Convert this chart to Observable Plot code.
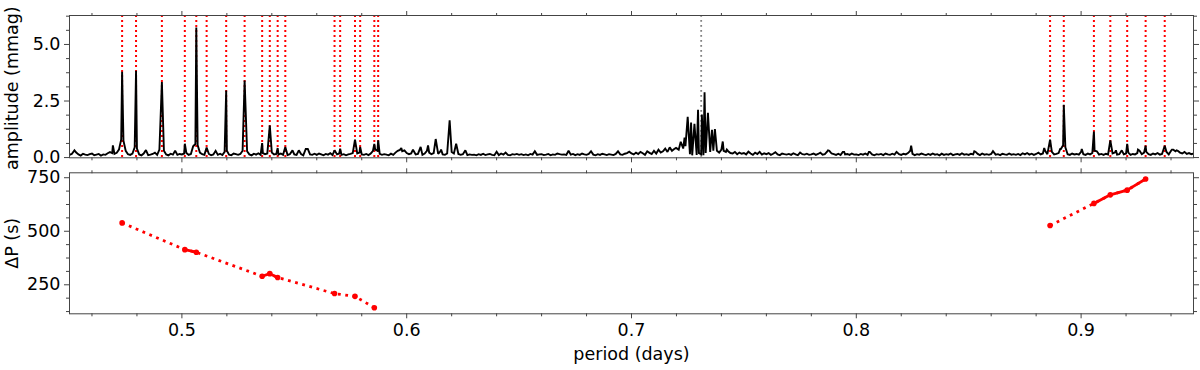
<!DOCTYPE html>
<html><head><meta charset="utf-8">
<script src="https://cdn.jsdelivr.net/npm/d3@7"></script>
<script src="https://cdn.jsdelivr.net/npm/@observablehq/plot@0.6"></script>
<style>
body{margin:0;background:#fff;}
#chart svg{display:block;}
</style>
</head><body><div id="chart"></div>
<script>
// ---------- DATA ----------
// Periodogram noise floor, read every 0.001 d from 0.450 to 0.950 d (amplitude, mmag)
const gridStart = 0.45, gridStep = 0.001;
const noise = [
.12,.16,.10,.22,.14,.09,.17,.13,.11,.15,
.18,.10,.13,.16,.09,.14,.12,.19,.24,.20,
.16,.21,.35,.80,.75,.30,.15,.12,.18,.45,
.40,.14,.10,.18,.33,.11,.13,.16,.22,.12,
.35,.20,.30,.14,.10,.17,.13,.30,.12,.16,
.14,.18,.20,.12,.16,.50,.60,.55,.22,.15,
.12,.18,.16,.10,.14,.30,.12,.17,.11,.25,
.30,.13,.10,.18,.15,.12,.16,.30,.20,.28,
.14,.10,.17,.13,.19,.12,.20,.15,.18,.30,
.22,.14,.16,.13,.18,.12,.16,.11,.15,.20,
.14,.12,.32,.16,.10,.15,.38,.14,.12,.17,
.12,.18,.14,.10,.16,.13,.19,.11,.15,.14,
.18,.12,.15,.10,.14,.16,.20,.25,.18,.22,
.14,.12,.16,.11,.18,.30,.35,.30,.16,.12,
.15,.13,.10,.17,.12,.22,.30,.34,.28,.32,
.20,.15,.18,.30,.14,.16,.20,.12,.18,.30,
.22,.15,.20,.25,.16,.28,.14,.12,.18,.30,
.25,.18,.30,.16,.12,.15,.20,.11,.14,.12,
.13,.10,.15,.12,.17,.11,.14,.16,.12,.10,
.26,.11,.18,.13,.22,.12,.10,.15,.13,.16,
.12,.15,.11,.14,.10,.16,.13,.28,.12,.14,
.15,.11,.13,.16,.10,.14,.12,.18,.15,.13,
.14,.12,.30,.13,.16,.11,.15,.12,.18,.14,
.12,.16,.28,.13,.10,.15,.12,.17,.14,.11,
.15,.13,.11,.16,.28,.14,.12,.17,.20,.26,
.18,.14,.22,.16,.25,.19,.12,.28,.21,.16,
.30,.18,.35,.22,.28,.40,.25,.45,.30,.38,
.30,.35,.40,.40,.50,.60,.15,.10,.60,.12,
.20,.15,.10,.20,.50,.25,.60,.60,.30,.22,
.35,.30,.25,.28,.20,.18,.25,.15,.22,.17,
.20,.14,.26,.18,.12,.22,.16,.25,.13,.19,
.15,.20,.12,.17,.24,.14,.11,.18,.15,.13,
.16,.12,.19,.14,.11,.22,.15,.13,.17,.12,
.14,.18,.12,.16,.22,.13,.15,.26,.30,.18,
.15,.12,.17,.11,.25,.14,.16,.12,.18,.13,
.14,.11,.16,.13,.18,.12,.25,.14,.10,.15,
.13,.16,.11,.18,.14,.12,.17,.13,.24,.15,
.12,.17,.14,.20,.30,.16,.11,.15,.13,.18,
.14,.11,.16,.12,.18,.13,.15,.10,.17,.12,
.15,.13,.18,.11,.14,.16,.12,.19,.13,.15,
.12,.17,.14,.26,.16,.11,.18,.13,.15,.12,
.16,.24,.13,.15,.11,.17,.14,.12,.18,.13,
.15,.12,.16,.11,.19,.14,.20,.13,.17,.12,
.16,.22,.14,.18,.30,.15,.35,.25,.14,.16,
.20,.38,.55,.45,.15,.12,.18,.14,.16,.13,
.25,.15,.12,.18,.14,.20,.30,.28,.13,.16,
.12,.17,.14,.25,.18,.22,.13,.15,.30,.14,
.18,.22,.12,.16,.14,.20,.30,.15,.22,.25,
.15,.12,.18,.14,.20,.13,.16,.22,.25,.14,
.30,.35,.28,.30,.22,.18,.25,.16,.20,.15,
.18
];

// Periodogram peaks [period (d), amplitude (mmag)]
const peaks = [
[0.4522,0.32],[0.4693,0.54],[0.4734,3.79],[0.4796,3.84],[0.4911,3.34],[0.5013,0.61],
[0.5064,5.75],[0.5110,0.44],[0.5197,2.96],[0.5279,3.41],[0.5357,0.64],[0.5391,1.42],
[0.5426,0.42],[0.5460,0.47],[0.5492,0.32],[0.5520,0.32],[0.5551,0.38],[0.5679,0.32],
[0.5704,0.39],[0.5770,0.79],[0.5793,0.47],[0.5856,0.60],[0.5873,0.76],[0.5976,0.42],
[0.6028,0.35],[0.6062,0.47],[0.6095,0.54],[0.6129,0.82],[0.6153,0.35],[0.6191,1.65],
[0.6220,0.61],[0.6261,0.32],
[0.7198,0.43],[0.7219,0.70],[0.7236,0.88],[0.7250,1.80],[0.7265,1.55],[0.7280,1.49],
[0.7296,2.11],[0.7313,1.90],[0.7325,2.89],[0.7340,1.98],[0.7358,1.23],[0.7364,0.30],
[0.7371,1.26],[0.7406,0.71],[0.7424,0.35],
[0.7874,0.32],[0.7946,0.25],[0.8056,0.25],[0.8179,0.25],[0.8244,0.53],[0.8525,0.28],
[0.8608,0.28],[0.8836,0.42],[0.8862,0.79],[0.8907,0.38],[0.8923,2.33],[0.9003,0.38],
[0.9057,1.15],[0.9130,0.76],[0.9155,0.32],[0.9181,0.32],[0.9205,0.61],[0.9253,0.35],
[0.9287,0.52],[0.9372,0.52],[0.9404,0.35],[0.9425,0.32]
];

// Identified mode periods (red) and central period (grey)
const modePeriods = [0.4734,0.4796,0.4911,0.5013,0.5064,0.5110,0.5197,0.5279,0.5357,0.5391,
  0.5426,0.5460,0.5679,0.5704,0.5770,0.5793,0.5856,0.5873,
  0.8862,0.8923,0.9057,0.9130,0.9205,0.9287,0.9372];
const centralPeriod = [0.7310];

// Period spacings
const dpPeriod  = [0.4734,0.5013,0.5064,0.5357,0.5391,0.5426,0.5679,0.5770,0.5856,
                   0.8862,0.9057,0.9130,0.9205,0.9287];
const dpSeconds = [539,414,402,290,302,284,209,196,143, 527,630,670,692,744];
const dpSeries  = ["L","L","L","L","L","L","L","L","L","R","R","R","R","R"];
const dpRun     = ["r1","r2","r2","r3","r3","r3","r4","r5","r6","r7","r8","r8","r8","r8"];

// Ticks
const xMajor = [0.5,0.6,0.7,0.8,0.9];
const xMinor = [0.46,0.48,0.52,0.54,0.56,0.58,0.62,0.64,0.66,0.68,0.72,0.74,0.76,0.78,0.82,0.84,0.86,0.88,0.92,0.94];
const ampMajor = [0,2.5,5];
const ampMinor = [0.625,1.25,1.875,3.125,3.75,4.375,5.625,6.25];
const dpMajor = [250,500,750];
const dpMinor = [125,187.5,312.5,375,437.5,562.5,625,687.5];

// ---------- BUILD ----------
const spectrum = noise
  .map((a, i) => ({period: gridStart + i * gridStep, amp: a}))
  .filter(d => !peaks.some(([p]) => Math.abs(p - d.period) < 0.00025))
  .concat(peaks.map(([p, a]) => ({period: p, amp: a})))
  .sort((a, b) => a.period - b.period);

const dp = dpPeriod.map((p, i) => ({period: p, dP: dpSeconds[i], series: dpSeries[i], run: dpRun[i]}));

const AX = "#444";
const FS = 17.5;
const FONT = {fontFamily: "'DejaVu Sans', sans-serif", fontSize: FS + "px", background: "white", overflow: "visible"};

function frameAxes(xLabels, yMaj, yMin, yFmt) {
  const t = {stroke: AX, strokeWidth: 1, label: null, fontSize: FS, fill: "black"};
  const none = () => "";
  return [
    Plot.axisX({...t, anchor: "bottom", ticks: xMajor, tickSize: 5, tickPadding: 5, tickFormat: xLabels ? (d => d.toFixed(1)) : none}),
    Plot.axisX({...t, anchor: "bottom", ticks: xMinor, tickSize: 3, tickFormat: none}),
    Plot.axisX({...t, anchor: "top", ticks: xMajor, tickSize: 5, tickFormat: none}),
    Plot.axisX({...t, anchor: "top", ticks: xMinor, tickSize: 3, tickFormat: none}),
    Plot.axisY({...t, anchor: "left", ticks: yMaj, tickSize: 5, tickPadding: 4, tickFormat: yFmt}),
    Plot.axisY({...t, anchor: "left", ticks: yMin, tickSize: 3, tickFormat: none}),
    Plot.axisY({...t, anchor: "right", ticks: yMaj, tickSize: 5, tickFormat: none}),
    Plot.axisY({...t, anchor: "right", ticks: yMin, tickSize: 3, tickFormat: none}),
    Plot.frame({stroke: AX, strokeWidth: 1})
  ];
}

const topPanel = Plot.plot({
  width: 1200, height: 165,
  marginLeft: 69, marginRight: 7, marginTop: 15, marginBottom: 7.7,
  x: {domain: [0.45, 0.95]},
  y: {domain: [-0.01, 6.28]},
  style: FONT,
  marks: [
    Plot.ruleX(modePeriods, {x: d => d, stroke: "red", strokeWidth: 2, strokeDasharray: "2,3", strokeLinecap: "butt"}),
    Plot.ruleX(centralPeriod, {x: d => d, stroke: "gray", strokeWidth: 1.8, strokeDasharray: "1.8,3.2", strokeLinecap: "butt"}),
    Plot.line(spectrum, {x: "period", y: "amp", stroke: "black", strokeWidth: 1.9, strokeLinejoin: "miter", strokeMiterlimit: 2, clip: true}),
    ...frameAxes(false, ampMajor, ampMinor, d => d.toFixed(1)),
    Plot.text(["amplitude (mmag)"], {text: d => d, frameAnchor: "left", rotate: -90, dx: -57.5, dy: 1.5,
      fontSize: FS, textAnchor: "middle", lineAnchor: "middle", fill: "black"})
  ]
});

const bottomPanel = Plot.plot({
  width: 1200, height: 205,
  marginLeft: 69, marginRight: 7, marginTop: 7.3, marginBottom: 56.7,
  x: {domain: [0.45, 0.95]},
  y: {domain: [114.5, 773]},
  style: FONT,
  marks: [
    Plot.line(dp, {x: "period", y: "dP", z: "series", stroke: "red", strokeWidth: 2.8, strokeDasharray: "2.8,4.6", strokeLinecap: "butt"}),
    Plot.line(dp, {x: "period", y: "dP", z: "run", stroke: "red", strokeWidth: 2.8}),
    Plot.dot(dp, {x: "period", y: "dP", r: 2.8, fill: "red", stroke: "none"}),
    ...frameAxes(true, dpMajor, dpMinor, d => String(d)),
    Plot.text(["ΔP (s)"], {text: d => d, frameAnchor: "left", rotate: -90, dx: -57.5,
      fontSize: FS, textAnchor: "middle", lineAnchor: "middle", fill: "black"}),
    Plot.text(["period (days)"], {text: d => d, frameAnchor: "bottom", dy: 41,
      fontSize: FS, textAnchor: "middle", lineAnchor: "middle", fill: "black"})
  ]
});

document.getElementById("chart").append(topPanel, bottomPanel);
</script>
</body></html>
